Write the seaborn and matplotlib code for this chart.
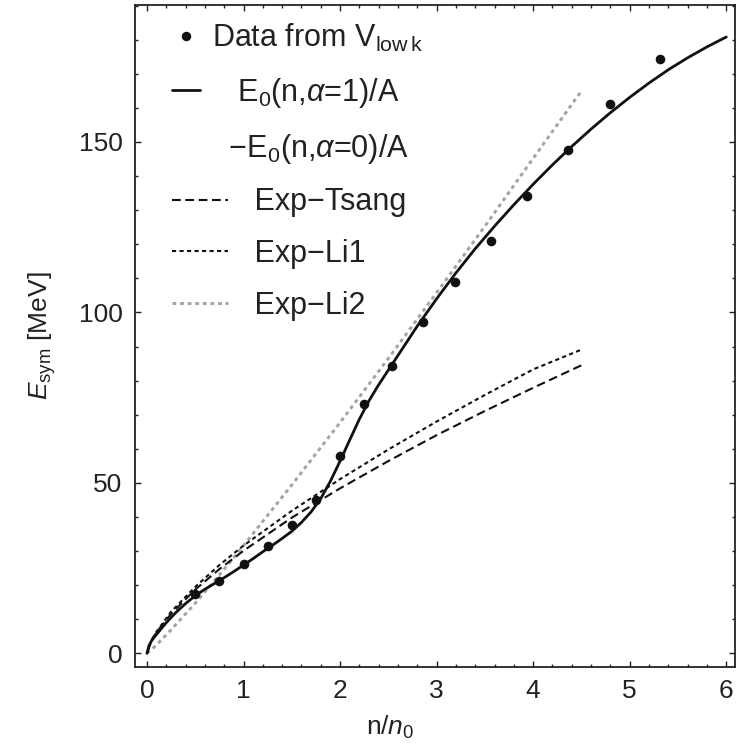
import numpy as np
import pandas as pd
import matplotlib
matplotlib.use("Agg")
import matplotlib.pyplot as plt
from matplotlib.lines import Line2D
from matplotlib.legend_handler import HandlerLine2D
from matplotlib.ticker import MultipleLocator
import seaborn as sns

# data
dens_vlowk = [0.5, 0.75, 1.0, 1.25, 1.5, 1.75, 2.0, 2.25, 2.54, 2.86, 3.19, 3.56, 3.94, 4.36, 4.80, 5.31]
esym_vlowk = [17.4, 21.3, 26.2, 31.5, 37.7, 45.0, 57.9, 73.1, 84.3, 97.3, 108.9, 121.1, 134.2, 147.6, 161.1, 174.4]

dens_e0 = [0.0, 0.02, 0.05, 0.1, 0.2, 0.3, 0.4, 0.5, 0.6, 0.7, 0.8, 0.9, 1.0, 1.1, 1.2, 1.3, 1.4,
           1.5, 1.6, 1.7, 1.8, 1.9, 2.0, 2.1, 2.2, 2.3, 2.4, 2.5, 2.6, 2.8, 3.0, 3.2, 3.4, 3.6,
           3.8, 4.0, 4.2, 4.4, 4.6, 4.8, 5.0, 5.2, 5.4, 5.6, 5.8, 6.0]
esym_e0 = [0.0, 2.2, 3.8, 5.6, 9.0, 12.0, 14.6, 16.9, 18.8, 20.5, 22.2, 24.0, 25.9, 27.8, 29.8, 31.7, 33.7,
           35.8, 38.4, 41.5, 45.4, 50.5, 56.4, 62.6, 68.7, 74.1, 78.8, 83.1, 87.4, 96.0, 104.0, 111.6, 118.7, 125.3,
           131.6, 137.6, 143.3, 148.7, 153.8, 158.6, 163.1, 167.3, 171.2, 174.7, 177.9, 180.8]

dens_exp = [0.0, 0.05, 0.1, 0.25, 0.5, 0.75, 1.0, 1.5, 2.0, 2.5, 3.0, 3.5, 4.0, 4.5]
esym_tsang = [0.0, 3.9, 6.2, 11.6, 18.7, 24.7, 30.1, 39.8, 48.4, 56.4, 64.0, 71.1, 77.9, 84.5]
esym_li1 = [0.0, 4.0, 6.4, 12.2, 19.5, 25.9, 31.6, 41.8, 51.1, 59.8, 68.0, 75.8, 83.3, 89.1]
esym_li2 = [0.0, 1.2, 2.5, 6.9, 14.7, 23.0, 31.6, 49.4, 67.7, 86.5, 105.8, 125.3, 145.2, 165.0]

labels = [
    "Data from V$_{\\mathregular{low\\,k}}$",
    "   E$_0$(n,$\\alpha$=1)/A",
    "  \u2212E$_0$(n,$\\alpha$=0)/A",
    "     Exp\u2212Tsang",
    "     Exp\u2212Li1",
    "     Exp\u2212Li2",
]

df_exp = pd.DataFrame({"n": dens_exp, "tsang": esym_tsang, "li1": esym_li1, "li2": esym_li2})

sns.set_style("ticks")
plt.rcParams["font.family"] = ["Liberation Sans", "DejaVu Sans"]
plt.rcParams["mathtext.fontset"] = "custom"
plt.rcParams["mathtext.rm"] = "Liberation Sans"
plt.rcParams["mathtext.it"] = "Liberation Sans:italic"
plt.rcParams["mathtext.bf"] = "Liberation Sans:bold"

BLACK = "#111111"
GREY = "#a3a3a3"
ls_tsang = (0, (4.2, 2.2))
ls_li1 = (0, (2.0, 1.6))
ls_li2 = (0, (1.3, 1.3))

fig = plt.figure(figsize=(7.38, 7.5), dpi=100)
ax = fig.add_axes([0.1829, 0.1107, 0.8130, 0.8827])

sns.lineplot(data=df_exp, x="n", y="li2", ax=ax, color=GREY, lw=2.1,
             linestyle=ls_li2, sort=False, errorbar=None)
sns.lineplot(data=df_exp, x="n", y="tsang", ax=ax, color=BLACK, lw=1.5,
             linestyle=ls_tsang, sort=False, errorbar=None)
sns.lineplot(data=df_exp, x="n", y="li1", ax=ax, color=BLACK, lw=1.5,
             linestyle=ls_li1, sort=False, errorbar=None)
sns.lineplot(x=dens_e0, y=esym_e0, ax=ax, color=BLACK, lw=2.0, sort=False, errorbar=None)
sns.scatterplot(x=dens_vlowk, y=esym_vlowk, ax=ax, color=BLACK, s=48, linewidth=0, zorder=5)

ax.set_xlim(-0.124, 6.09)
ax.set_ylim(-4.0, 190.2)
ax.xaxis.set_major_locator(MultipleLocator(1))
ax.xaxis.set_minor_locator(MultipleLocator(0.2))
ax.yaxis.set_major_locator(MultipleLocator(50))
ax.yaxis.set_minor_locator(MultipleLocator(10))
ax.tick_params(which="both", direction="in", top=True, right=True, width=1.0, color="#222222",
               labelsize=19, labelcolor="#222222")
ax.tick_params(which="major", length=4.5, pad=9)
ax.tick_params(which="minor", length=2.5)
for sp in ax.spines.values():
    sp.set_linewidth(1.3)
    sp.set_color("#222222")

ax.set_xlabel("n/$n_0$", fontsize=19, color="#222222")
ax.set_ylabel("$E_{\\mathrm{sym}}$ [MeV]", fontsize=19, color="#222222")
ax.xaxis.set_label_coords(0.425, -0.07)
ax.yaxis.set_label_coords(-0.128, 0.5)


class LeftDot(HandlerLine2D):
    def get_xdata(self, legend, xdescent, ydescent, width, height, fontsize):
        return [-xdescent, -xdescent + width], [-xdescent + 0.3 * fontsize]


class LongLine(HandlerLine2D):
    def create_artists(self, legend, orig_handle, xdescent, ydescent, width, height, fontsize, trans):
        return super().create_artists(legend, orig_handle, xdescent, ydescent, width * 2, height,
                                      fontsize, trans)


h_dot = Line2D([], [], marker="o", color=BLACK, linestyle="none", markersize=6.8, markeredgewidth=0)
h_e0 = Line2D([], [], color=BLACK, lw=2.0)
h_blank = Line2D([], [], linestyle="none")
h_tsang = Line2D([], [], color=BLACK, lw=1.5, linestyle=ls_tsang)
h_li1 = Line2D([], [], color=BLACK, lw=1.5, linestyle=ls_li1)
h_li2 = Line2D([], [], color=GREY, lw=2.1, linestyle=ls_li2)

leg = ax.legend([h_dot, h_e0, h_blank, h_tsang, h_li1, h_li2], labels,
                handler_map={h_dot: LeftDot(), h_tsang: LongLine(), h_li1: LongLine(), h_li2: LongLine()},
                loc="upper left", bbox_to_anchor=(0.062, 0.974), frameon=False, fontsize=22,
                handlelength=0.915, handletextpad=0.39, labelspacing=0.71, borderpad=0,
                borderaxespad=0)
for t in leg.get_texts():
    t.set_color("#222222")

fig.savefig("out.png", dpi=100)
